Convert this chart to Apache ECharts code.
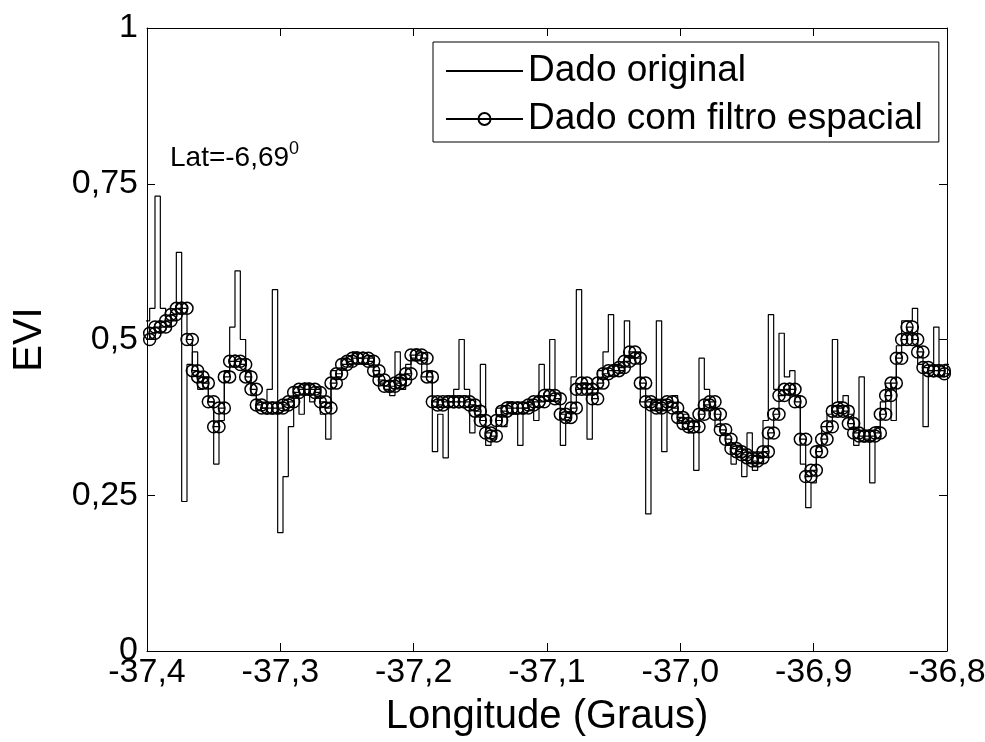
<!DOCTYPE html>
<html>
<head>
<meta charset="utf-8">
<script src="https://cdn.jsdelivr.net/npm/echarts@6/dist/echarts.min.js"></script>
<style>
  html, body { margin: 0; padding: 0; background: #fff; }
  #main { width: 985px; height: 742px; }
</style>
</head>
<body>
<div id="main"></div>
<script>
// longitude (graus), centro de cada pixel
var lon = [
  -37.400,-37.396,-37.392,-37.388,-37.384,-37.380,-37.376,-37.372,-37.368,-37.364,
  -37.360,-37.356,-37.352,-37.348,-37.344,-37.340,-37.336,-37.332,-37.328,-37.324,
  -37.320,-37.316,-37.312,-37.308,-37.304,-37.300,-37.296,-37.292,-37.288,-37.284,
  -37.280,-37.276,-37.272,-37.268,-37.264,-37.260,-37.256,-37.252,-37.248,-37.244,
  -37.240,-37.236,-37.232,-37.228,-37.224,-37.220,-37.216,-37.212,-37.208,-37.204,
  -37.200,-37.196,-37.192,-37.188,-37.184,-37.180,-37.176,-37.172,-37.168,-37.164,
  -37.160,-37.156,-37.152,-37.148,-37.144,-37.140,-37.136,-37.132,-37.128,-37.124,
  -37.120,-37.116,-37.112,-37.108,-37.104,-37.100,-37.096,-37.092,-37.088,-37.084,
  -37.080,-37.076,-37.072,-37.068,-37.064,-37.060,-37.056,-37.052,-37.048,-37.044,
  -37.040,-37.036,-37.032,-37.028,-37.024,-37.020,-37.016,-37.012,-37.008,-37.004,
  -37.000,-36.996,-36.992,-36.988,-36.984,-36.980,-36.976,-36.972,-36.968,-36.964,
  -36.960,-36.956,-36.952,-36.948,-36.944,-36.940,-36.936,-36.932,-36.928,-36.924,
  -36.920,-36.916,-36.912,-36.908,-36.904,-36.900,-36.896,-36.892,-36.888,-36.884,
  -36.880,-36.876,-36.872,-36.868,-36.864,-36.860,-36.856,-36.852,-36.848,-36.844,
  -36.840,-36.836,-36.832,-36.828,-36.824,-36.820,-36.816,-36.812,-36.808,-36.804,
  -36.800
];
var meioPixel = 0.002; // cada valor e desenhado nas duas bordas do pixel
// dado original
var eviOriginal = [
  0.53,0.55,0.73,0.55,0.52,0.53,0.64,0.24,0.46,0.48,
  0.42,0.44,0.40,0.30,0.37,0.45,0.52,0.61,0.50,0.45,
  0.41,0.40,0.39,0.42,0.58,0.19,0.28,0.36,0.41,0.38,
  0.43,0.40,0.42,0.38,0.34,0.45,0.44,0.47,0.46,0.48,
  0.47,0.46,0.47,0.44,0.43,0.42,0.41,0.48,0.42,0.46,
  0.47,0.48,0.44,0.45,0.32,0.38,0.31,0.40,0.42,0.50,
  0.42,0.35,0.39,0.46,0.33,0.34,0.39,0.36,0.40,0.38,
  0.33,0.39,0.40,0.37,0.46,0.42,0.50,0.40,0.33,0.37,
  0.44,0.58,0.43,0.34,0.42,0.45,0.48,0.54,0.46,0.45,
  0.53,0.47,0.48,0.40,0.22,0.40,0.53,0.32,0.40,0.41,
  0.37,0.38,0.35,0.29,0.47,0.42,0.39,0.36,0.35,0.33,
  0.30,0.33,0.28,0.35,0.29,0.31,0.37,0.54,0.42,0.51,
  0.44,0.45,0.41,0.30,0.23,0.27,0.33,0.36,0.38,0.50,
  0.40,0.41,0.38,0.33,0.44,0.34,0.27,0.36,0.40,0.43,
  0.37,0.49,0.53,0.53,0.55,0.46,0.36,0.45,0.52,0.44,
  0.46
];
// dado com filtro espacial
var eviFiltro = [
  0.50,0.51,0.52,0.52,0.53,0.54,0.55,0.55,0.50,0.45,
  0.44,0.43,0.40,0.36,0.39,0.44,0.465,0.465,0.46,0.44,
  0.42,0.395,0.39,0.39,0.39,0.39,0.395,0.40,0.415,0.42,
  0.42,0.42,0.415,0.40,0.39,0.43,0.445,0.46,0.465,0.47,
  0.47,0.47,0.465,0.45,0.435,0.425,0.425,0.43,0.435,0.445,
  0.475,0.475,0.47,0.44,0.40,0.395,0.40,0.40,0.40,0.40,
  0.40,0.395,0.385,0.37,0.35,0.345,0.37,0.385,0.39,0.39,
  0.39,0.39,0.395,0.40,0.40,0.41,0.41,0.405,0.38,0.375,
  0.39,0.42,0.43,0.42,0.405,0.43,0.445,0.45,0.45,0.455,
  0.465,0.48,0.47,0.43,0.40,0.395,0.39,0.395,0.40,0.39,
  0.375,0.365,0.36,0.36,0.38,0.395,0.40,0.38,0.355,0.34,
  0.325,0.32,0.315,0.31,0.305,0.31,0.32,0.35,0.38,0.41,
  0.42,0.42,0.40,0.34,0.28,0.29,0.32,0.34,0.36,0.385,
  0.39,0.385,0.365,0.35,0.345,0.345,0.345,0.35,0.38,0.41,
  0.43,0.47,0.50,0.52,0.50,0.48,0.455,0.45,0.45,0.45,
  0.445
];
var seriesNames = ['Dado original', 'Dado com filtro espacial'];

var fonte = '"Liberation Sans", Arial, sans-serif';

// cada pixel vira um degrau: mesmo valor na borda esquerda e direita
function degraus(xs, ys) {
  var out = [];
  for (var i = 0; i < xs.length; i++) {
    out.push([xs[i] - meioPixel, ys[i]]);
    out.push([xs[i] + meioPixel, ys[i]]);
  }
  return out;
}
function virgula(v) {
  return String(v).replace('.', ',');
}

var myChart = echarts.init(document.getElementById('main'));
var eixoBase = {
  axisLine: { show: true, onZero: false, lineStyle: { color: '#000', width: 1 } },
  axisTick: { show: true, inside: true, length: 8, lineStyle: { color: '#000' } },
  splitLine: { show: false }
};
var option = {
  animation: false,
  backgroundColor: '#fff',
  grid: { left: 147, right: 38, top: 28, bottom: 91, outerBoundsMode: 'none' },
  legend: {
    orient: 'vertical',
    left: 433, top: 42,
    data: [
      { name: seriesNames[0], itemStyle: { opacity: 0 } },
      { name: seriesNames[1] }
    ],
    backgroundColor: '#fff',
    borderColor: '#000', borderWidth: 1,
    borderRadius: 0,
    padding: [9, 16, 3, 12],
    itemGap: 8,
    itemWidth: 77, itemHeight: 15,
    textStyle: { fontFamily: fonte, fontSize: 37, lineHeight: 40, color: '#000' }
  },
  xAxis: [
    Object.assign({}, eixoBase, {
      type: 'value', position: 'bottom',
      min: -37.4, max: -36.8, interval: 0.1,
      name: 'Longitude (Graus)', nameLocation: 'middle', nameGap: 46,
      nameTextStyle: { fontFamily: fonte, fontSize: 40, color: '#000' },
      axisLabel: {
        margin: 5, fontFamily: fonte, fontSize: 34, color: '#000',
        formatter: function (v) { return virgula(v.toFixed(1)); }
      }
    }),
    Object.assign({}, eixoBase, {
      type: 'value', position: 'top',
      min: -37.4, max: -36.8, interval: 0.1,
      axisLabel: { show: false }
    })
  ],
  yAxis: [
    Object.assign({}, eixoBase, {
      type: 'value', position: 'left',
      min: 0, max: 1, interval: 0.25,
      name: 'EVI', nameLocation: 'middle', nameGap: 97, nameRotate: 90,
      nameTextStyle: { fontFamily: fonte, fontSize: 40, color: '#000' },
      axisLabel: {
        margin: 9, fontFamily: fonte, fontSize: 34, color: '#000',
        formatter: function (v) { return virgula(v); }
      }
    }),
    Object.assign({}, eixoBase, {
      type: 'value', position: 'right',
      min: 0, max: 1, interval: 0.25,
      axisLabel: { show: false }
    })
  ],
  graphic: [{
    type: 'text', left: 170, top: 140,
    style: {
      text: '{a|Lat=-6,69}{s|0}',
      rich: {
        a: { fontFamily: fonte, fontSize: 28, fill: '#000', verticalAlign: 'bottom' },
        s: { fontFamily: fonte, fontSize: 18, fill: '#000', verticalAlign: 'top', padding: [0, 0, 14, 0] }
      }
    }
  }],
  series: [
    {
      name: seriesNames[0], type: 'line',
      data: degraus(lon, eviOriginal),
      showSymbol: false, symbol: 'none',
      lineStyle: { color: '#000', width: 1.2 },
      itemStyle: { color: '#000' }
    },
    {
      name: seriesNames[1], type: 'line',
      data: degraus(lon, eviFiltro),
      symbol: 'circle', symbolSize: 12, showAllSymbol: true,
      lineStyle: { color: '#000', width: 1.2 },
      itemStyle: { color: 'transparent', borderColor: '#000', borderWidth: 1.5 }
    }
  ]
};
myChart.setOption(option);
</script>
</body>
</html>
